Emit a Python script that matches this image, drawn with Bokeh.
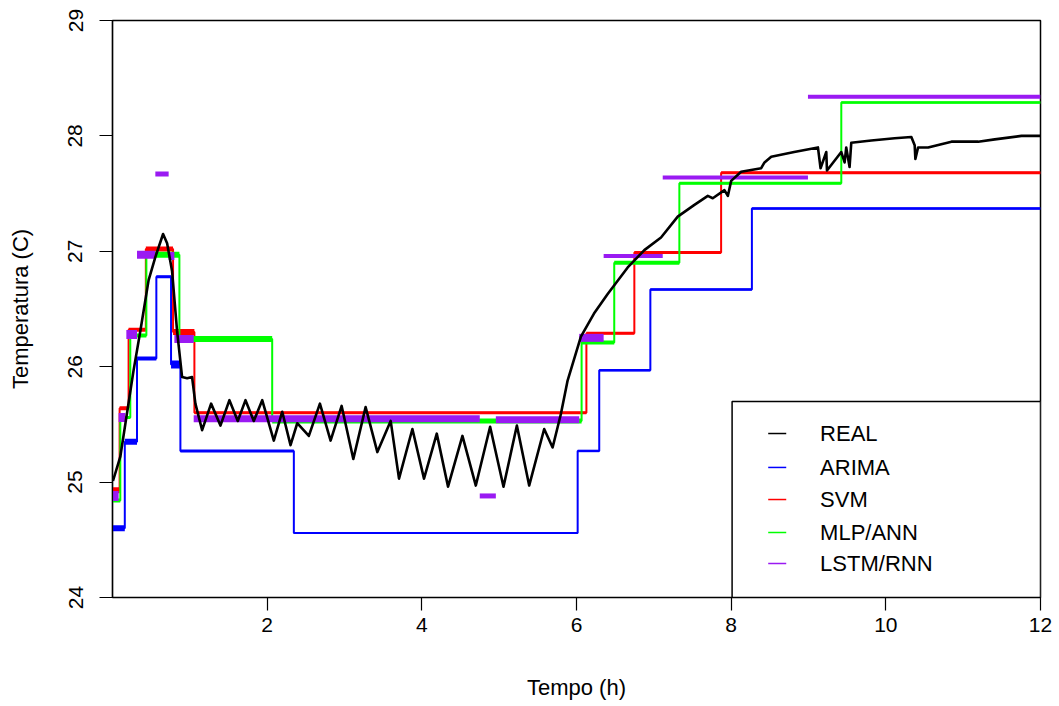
from bokeh.plotting import figure
from bokeh.models import FixedTicker, Range1d
from bokeh.core.properties import value
from bokeh.embed import file_html
from bokeh.resources import INLINE

FONT = "Liberation Sans"

# ---------------- data ----------------
real_t = [0.006, 0.101, 0.273, 0.360, 0.467, 0.554, 0.654, 0.706, 0.770, 0.835,
          0.900, 0.965, 1.029, 1.072, 1.159, 1.275, 1.396, 1.512, 1.620, 1.720,
          1.827, 1.936, 2.086, 2.195, 2.302, 2.389, 2.539, 2.682, 2.820, 2.963,
          3.114, 3.273, 3.425, 3.597, 3.705, 3.878, 4.028, 4.193, 4.339, 4.525,
          4.698, 4.883, 5.056, 5.229, 5.388, 5.582, 5.691, 5.798, 5.885, 6.057,
          6.226, 6.403, 6.662, 6.877, 7.093, 7.309, 7.520, 7.698, 7.762, 7.913,
          7.957, 8.000, 8.129, 8.388, 8.431, 8.518, 8.815, 9.122, 9.156, 9.230,
          9.239, 9.424, 9.467, 9.488, 9.531, 9.553, 9.812, 10.114, 10.330, 10.373,
          10.382, 10.417, 10.547, 10.848, 11.194, 11.409, 11.754, 12.0]
real_temp = [25.01, 25.22, 25.97, 26.31, 26.75, 26.95, 27.15, 27.07, 26.83, 26.31,
             25.91, 25.90, 25.91, 25.68, 25.45, 25.68, 25.49, 25.71, 25.53, 25.71,
             25.53, 25.71, 25.36, 25.61, 25.32, 25.51, 25.40, 25.68, 25.36, 25.66,
             25.20, 25.65, 25.26, 25.53, 25.03, 25.46, 25.03, 25.42, 24.96, 25.40,
             24.97, 25.48, 24.96, 25.49, 24.97, 25.46, 25.30, 25.59, 25.88, 26.26,
             26.46, 26.63, 26.86, 27.01, 27.12, 27.30, 27.40, 27.48, 27.46, 27.53,
             27.48, 27.61, 27.69, 27.72, 27.77, 27.82, 27.86, 27.90, 27.72, 27.86,
             27.70, 27.86, 27.77, 27.90, 27.73, 27.94, 27.96, 27.98, 27.99, 27.92,
             27.80, 27.90, 27.90, 27.95, 27.95, 27.97, 28.00, 28.00]

arima_edges = [0.0, 0.159, 0.317, 0.567, 0.757, 0.878, 2.345, 6.015, 6.294, 6.955, 8.268, 12.0]
arima_temp = [24.60, 25.35, 26.07, 26.78, 26.02, 25.27, 24.56, 25.27, 25.97, 26.67, 27.37]

svm_edges = [0.0, 0.092, 0.208, 0.431, 0.783, 1.059, 6.128, 6.748, 7.870, 12.0]
svm_temp = [24.93, 25.64, 26.32, 27.02, 26.30, 25.60, 26.29, 26.99, 27.68]

mlp_edges = [0.0, 0.101, 0.230, 0.438, 0.865, 2.065, 6.066, 6.488, 7.330, 9.424, 12.0]
mlp_temp = [24.84, 25.56, 26.27, 26.97, 26.24, 25.53, 26.21, 26.90, 27.59, 28.29]

lstm_start = [0.0, 0.079, 0.179, 0.317, 0.554, 0.726, 0.800, 1.050, 4.749, 4.957, 6.035, 6.351, 7.115, 8.993]
lstm_end = [0.079, 0.166, 0.317, 0.554, 0.726, 0.800, 1.050, 4.749, 4.957, 6.035, 6.351, 7.115, 8.993, 12.0]
lstm_temp = [24.88, 25.56, 26.28, 26.97, 27.67, 26.96, 26.24, 25.55, 24.88, 25.54, 26.25, 26.96, 27.64, 28.34]

legend_labels = ["REAL", "ARIMA", "SVM", "MLP/ANN", "LSTM/RNN"]
x_ticks = [2, 4, 6, 8, 10, 12]
y_ticks = [24, 25, 26, 27, 28, 29]

# ---------------- styles ----------------
C_REAL, C_ARIMA, C_SVM, C_MLP, C_LSTM = "#000000", "#0000FF", "#FF0000", "#00FF00", "#9A1AF2"
arima_w = [6, 6, 4, 3, 8, 3, 2, 2.5, 2.5, 2.5, 2.5]
svm_w = [6, 4, 4, 5, 6, 3, 3, 3, 3]
mlp_w = [4, 3, 4, 6, 6, 5, 4, 4, 3, 2.5]
lstm_w = [10, 9, 9, 8, 5, 8, 8, 7, 5, 7, 8, 4, 4, 4]


def steps(edges, levels):
    xs, ys = [], []
    for i, lv in enumerate(levels):
        xs += [edges[i], edges[i + 1]]
        ys += [lv, lv]
    return xs, ys


p = figure(frame_width=928, frame_height=577,
           x_range=Range1d(0, 12), y_range=Range1d(24, 29),
           output_backend="svg", toolbar_location=None,
           min_border_left=112, min_border_right=18,
           min_border_top=20, min_border_bottom=108,
           background_fill_color="white", border_fill_color="white")

p.xgrid.visible = False
p.ygrid.visible = False
p.outline_line_color = "black"
p.outline_line_width = 1.5
p.outline_line_alpha = 1.0

for ax in (p.xaxis[0], p.yaxis[0]):
    ax.minor_tick_line_color = None
    ax.major_tick_in = 0
    ax.major_tick_out = 13
    ax.major_tick_line_color = "black"
    ax.major_tick_line_width = 1.2
    ax.axis_line_color = "black"
    ax.axis_line_width = 1.2
    ax.major_label_text_font = FONT
    ax.major_label_text_font_size = "21px"
    ax.major_label_text_color = "black"
    ax.axis_label_text_font = FONT
    ax.axis_label_text_font_size = "22px"
    ax.axis_label_text_font_style = "normal"
    ax.axis_label_text_color = "black"

p.xaxis.ticker = FixedTicker(ticks=x_ticks)
p.yaxis.ticker = FixedTicker(ticks=y_ticks)
p.xaxis.axis_label = "Tempo (h)"
p.yaxis.axis_label = "Temperatura (C)"
p.xaxis.major_label_standoff = 7
p.xaxis.axis_label_standoff = 40
p.yaxis.major_label_orientation = "parallel"
p.yaxis.major_label_standoff = 17
p.yaxis.axis_label_standoff = 33

# step series
for edges, temps, widths, col in ((arima_edges, arima_temp, arima_w, C_ARIMA),
                                   (svm_edges, svm_temp, svm_w, C_SVM),
                                   (mlp_edges, mlp_temp, mlp_w, C_MLP)):
    xs, ys = steps(edges, temps)
    p.line(xs, ys, line_color=col, line_width=2)
    p.segment(x0=edges[:-1], x1=edges[1:], y0=temps, y1=temps,
              line_color=col, line_width=widths)

p.segment(x0=lstm_start, x1=lstm_end, y0=lstm_temp, y1=lstm_temp,
          line_color=C_LSTM, line_width=lstm_w)

p.line(real_t, real_temp, line_color=C_REAL, line_width=2.6, line_join="round")

# legend box (bottom-right, touching the frame)
LEG_X0, LEG_Y1 = 8.012, 25.698
LEG_ROWS = [25.421, 25.127, 24.849, 24.563, 24.295]
LEG_G0, LEG_G1, LEG_TX = 8.479, 8.712, 9.150
p.quad(left=[LEG_X0], right=[12], bottom=[24], top=[LEG_Y1],
       fill_color="white", line_color="black", line_width=1.5)
p.segment(x0=[LEG_G0] * 5, x1=[LEG_G1] * 5, y0=LEG_ROWS, y1=LEG_ROWS,
          line_color=[C_REAL, C_ARIMA, C_SVM, C_MLP, C_LSTM], line_width=1.5)
p.text(x=[LEG_TX] * 5, y=LEG_ROWS, text=legend_labels,
       text_font=value(FONT), text_font_size="22px",
       text_baseline="middle", text_align="left", text_color="black")

open("out.html", "w").write(file_html(p, INLINE))
